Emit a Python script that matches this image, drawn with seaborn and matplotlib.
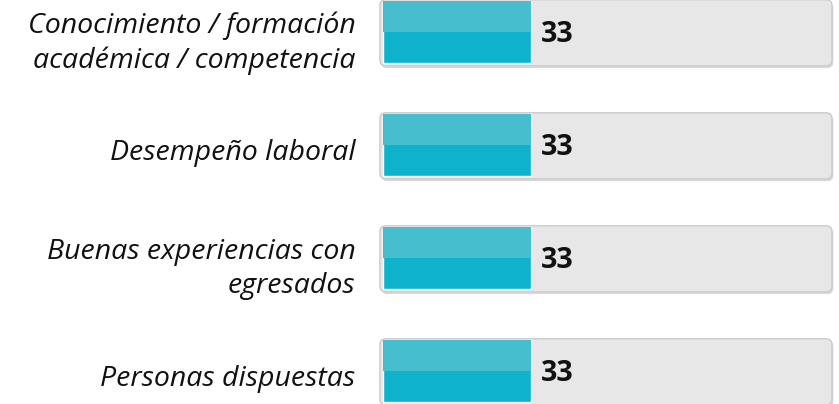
import matplotlib
matplotlib.use("Agg")
import matplotlib.pyplot as plt
from matplotlib.patches import FancyBboxPatch, Rectangle
import seaborn as sns
import pandas as pd

categorias = [
    "Conocimiento / formación\nacadémica / competencia",
    "Desempeño laboral",
    "Buenas experiencias con\negresados",
    "Personas dispuestas",
]
valores = [33, 33, 33, 33]
escala_max = 100

color_claro = "#47BECE"
color_oscuro = "#0EB3CB"
color_pista = "#E8E7E8"
color_borde = "#CBCBCB"
color_sombra = "#DADADA"

sns.set_theme(style="white")
plt.rcParams["font.family"] = ["Open Sans", "DejaVu Sans"]

df = pd.DataFrame({"categoria": categorias, "valor": valores})

fig = plt.figure(figsize=(8.39, 4.04), dpi=100)
ax = fig.add_axes([0.452, 0.0, 0.541, 1.0])

alto_barra = 0.549
sns.barplot(data=df, x="valor", y="categoria", orient="h", color=color_oscuro,
            saturation=1, width=alto_barra, ax=ax, zorder=3)

ax.set_xlim(-0.9, 100.3)
ax.set_ylim(3.292, -0.283)

# px per data unit, used to keep rounded corners circular
px_x = 454 / (100.3 + 0.9)
px_y = 113.0
aspecto = px_x / px_y
radio = 6 / px_x

for i in range(len(categorias)):
    x0, x1 = -0.75, escala_max + 0.05
    y0, h = i - 0.285, 0.585
    sombra = FancyBboxPatch((x0 + 0.3, y0 + 0.02), x1 - x0, h,
                            boxstyle=f"round,pad=0,rounding_size={radio}",
                            mutation_aspect=aspecto, fc=color_sombra, ec="none",
                            zorder=1, clip_on=False)
    ax.add_patch(sombra)
    pista = FancyBboxPatch((x0, y0), x1 - x0, h,
                           boxstyle=f"round,pad=0,rounding_size={radio}",
                           mutation_aspect=aspecto, fc=color_pista, ec=color_borde,
                           lw=1.0, zorder=2, clip_on=False)
    ax.add_patch(pista)

# lighter upper half on each filled bar
for p in ax.patches:
    if isinstance(p, Rectangle) and not isinstance(p, FancyBboxPatch):
        if p.get_facecolor()[:3] == matplotlib.colors.to_rgb(color_oscuro):
            ax.add_patch(Rectangle((p.get_x(), p.get_y()), p.get_width(),
                                   p.get_height() / 2, fc=color_claro, ec="none",
                                   zorder=4))

for i, v in enumerate(valores):
    ax.text(v + 2.2, i + 0.025, f"{v}", ha="left", va="center",
            fontsize=20.5, fontweight="bold", color="#111111", zorder=5)

ax.set_xlabel("")
ax.set_ylabel("")
ax.set_xticks([])
ax.set_yticks([i + 0.04 for i in range(len(categorias))])
ax.set_yticklabels(categorias, fontsize=20.5, fontstyle="italic", color="#111111",
                   linespacing=1.3)
ax.tick_params(axis="y", length=0, pad=17)
for s in ax.spines.values():
    s.set_visible(False)
ax.set_facecolor("none")

fig.savefig("out.png", dpi=100, facecolor="white")
